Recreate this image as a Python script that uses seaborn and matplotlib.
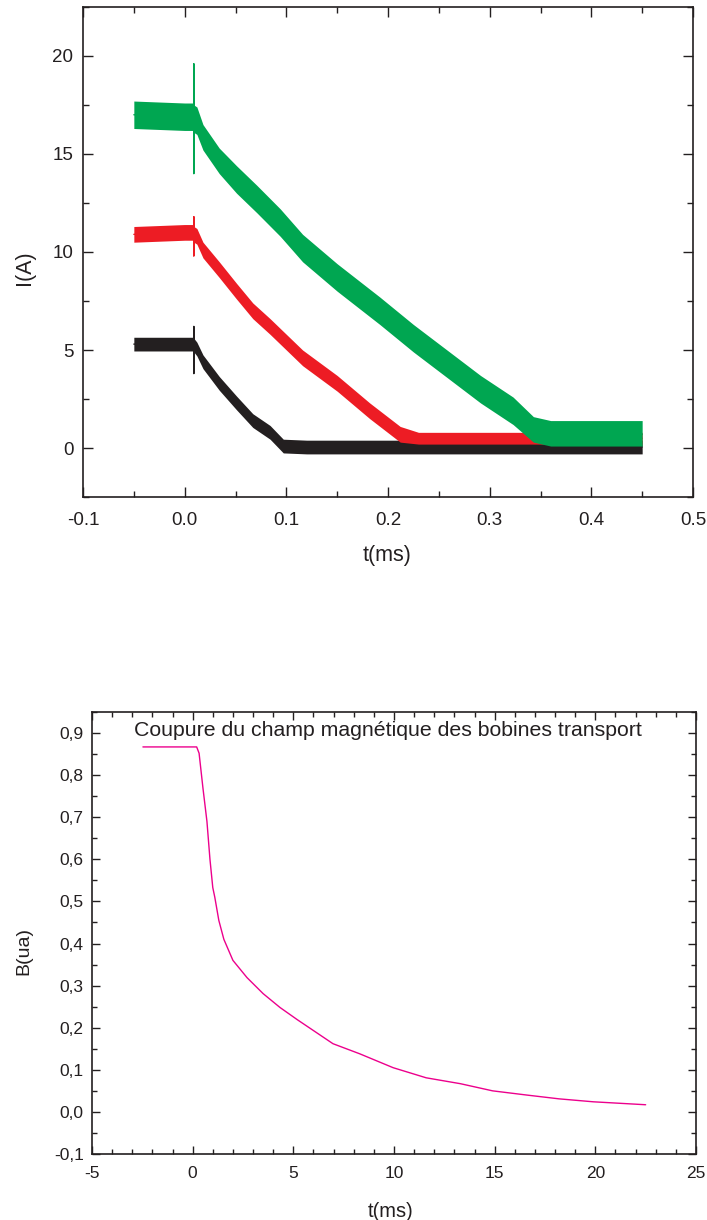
import numpy as np
import pandas as pd
import matplotlib
matplotlib.use("Agg")
import matplotlib.pyplot as plt
import seaborn as sns
from matplotlib.ticker import MultipleLocator, FuncFormatter

# --- courant dans les bobines (3 mesures) ---
green_t = [-0.05, 0.0, 0.009, 0.009, 0.009, 0.009, 0.012, 0.018, 0.034, 0.051, 0.071, 0.094,
           0.116, 0.150, 0.192, 0.225, 0.258, 0.291, 0.323, 0.343, 0.36, 0.40, 0.45]
green_i = [17.0, 16.9, 16.9, 19.6, 14.0, 16.8, 16.7, 15.8, 14.6, 13.7, 12.7, 11.5,
           10.2, 8.7, 7.0, 5.6, 4.3, 3.0, 1.9, 0.9, 0.7, 0.7, 0.7]
green_lo = [16.3, 16.2, 16.2, 16.2, 16.2, 16.1, 16.0, 15.2, 14.0, 13.0, 12.0, 10.8,
            9.5, 8.0, 6.3, 4.9, 3.6, 2.3, 1.2, 0.3, 0.1, 0.1, 0.1]
green_hi = [17.7, 17.6, 17.6, 17.6, 17.6, 17.5, 17.4, 16.5, 15.3, 14.4, 13.4, 12.2,
            10.9, 9.4, 7.7, 6.3, 5.0, 3.7, 2.6, 1.6, 1.4, 1.4, 1.4]

red_t = [-0.05, 0.0, 0.009, 0.009, 0.009, 0.009, 0.012, 0.018, 0.034, 0.051, 0.067, 0.084,
         0.116, 0.150, 0.182, 0.212, 0.23, 0.30, 0.45]
red_i = [10.9, 11.0, 11.0, 11.8, 9.8, 10.9, 10.8, 10.1, 9.1, 8.0, 7.0, 6.2,
         4.6, 3.3, 1.9, 0.7, 0.5, 0.5, 0.5]
red_lo = [10.5, 10.6, 10.6, 10.6, 10.6, 10.5, 10.4, 9.7, 8.7, 7.6, 6.6, 5.8,
          4.2, 2.9, 1.5, 0.3, 0.2, 0.2, 0.2]
red_hi = [11.3, 11.4, 11.4, 11.4, 11.4, 11.3, 11.2, 10.5, 9.5, 8.4, 7.4, 6.6,
          5.0, 3.7, 2.3, 1.1, 0.8, 0.8, 0.8]

black_t = [-0.05, 0.0, 0.009, 0.009, 0.009, 0.009, 0.012, 0.018, 0.034, 0.051, 0.067, 0.084,
           0.097, 0.12, 0.30, 0.45]
black_i = [5.3, 5.3, 5.3, 6.2, 3.8, 5.2, 5.0, 4.4, 3.3, 2.3, 1.4, 0.8, 0.1, 0.05, 0.05, 0.05]
black_lo = [4.95, 4.95, 4.95, 4.95, 4.95, 4.9, 4.7, 4.05, 2.95, 1.95, 1.05, 0.45,
            -0.25, -0.3, -0.3, -0.3]
black_hi = [5.65, 5.65, 5.65, 5.65, 5.65, 5.6, 5.4, 4.75, 3.65, 2.65, 1.75, 1.15,
            0.45, 0.4, 0.4, 0.4]

# --- champ magnetique ---
b_t = [-2.47, 0.2, 0.32, 0.51, 0.71, 0.86, 1.0, 1.1, 1.3, 1.55, 2.0, 2.7, 3.5, 4.34,
       5.2, 6.97, 8.3, 9.96, 11.6, 13.3, 14.9, 16.6, 18.2, 19.9, 22.5]
b_val = [0.867, 0.867, 0.852, 0.77, 0.69, 0.60, 0.533, 0.51, 0.455, 0.41, 0.36, 0.319,
         0.281, 0.248, 0.219, 0.162, 0.138, 0.105, 0.081, 0.067, 0.05, 0.04, 0.031,
         0.024, 0.017]

dark = "#231F20"
sns.set_style("ticks")
plt.rcParams['font.family'] = ['Liberation Sans', 'DejaVu Sans']
plt.rcParams['text.color'] = dark
plt.rcParams['axes.labelcolor'] = dark
plt.rcParams['xtick.color'] = dark
plt.rcParams['ytick.color'] = dark
plt.rcParams['axes.edgecolor'] = dark

fig = plt.figure(figsize=(7.07, 12.2), dpi=100)
ax1 = fig.add_axes([0.1174, 0.5926, 0.8628, 0.4017])
ax2 = fig.add_axes([0.1301, 0.0541, 0.8543, 0.3623])

series = [
    (black_t, black_i, black_lo, black_hi, "#231F20"),
    (red_t, red_i, red_lo, red_hi, "#ED1C24"),
    (green_t, green_i, green_lo, green_hi, "#00A651"),
]
for k, (t, i, lo, hi, c) in enumerate(series):
    ax1.fill_between(t, lo, hi, color=c, linewidth=0, zorder=2 + k)
    df = pd.DataFrame({"t": t, "I": i})
    sns.lineplot(data=df, x="t", y="I", ax=ax1, color=c, lw=1.0,
                 estimator=None, sort=False, zorder=2 + k)

ax1.set_xlim(-0.1, 0.5)
ax1.set_ylim(-2.5, 22.5)
ax1.xaxis.set_major_locator(MultipleLocator(0.1))
ax1.xaxis.set_minor_locator(MultipleLocator(0.05))
ax1.yaxis.set_major_locator(MultipleLocator(5))
ax1.yaxis.set_minor_locator(MultipleLocator(2.5))
ax1.xaxis.set_major_formatter(FuncFormatter(lambda v, p: f"{v:.1f}"))
ax1.yaxis.set_major_formatter(FuncFormatter(lambda v, p: f"{v:.0f}"))
ax1.tick_params(which='both', direction='in', top=True, right=True, width=1.0,
                labelsize=13.5)
ax1.tick_params(which='major', length=7)
ax1.tick_params(which='minor', length=4)
ax1.tick_params(axis='x', pad=11)
ax1.tick_params(axis='y', pad=7)
ax1.set_xlabel("t(ms)", fontsize=15.5, va='top')
ax1.set_ylabel("I(A)", fontsize=15.5)
ax1.xaxis.set_label_coords(0.498, -0.098)
ax1.yaxis.set_label_coords(-0.079, 0.467)

dfb = pd.DataFrame({"t": b_t, "B": b_val})
sns.lineplot(data=dfb, x="t", y="B", ax=ax2, color="#EC008C", lw=1.0, estimator=None)
ax2.set_xlim(-5, 25)
ax2.set_ylim(-0.1, 0.95)
ax2.xaxis.set_major_locator(MultipleLocator(5))
ax2.xaxis.set_minor_locator(MultipleLocator(1))
ax2.yaxis.set_major_locator(MultipleLocator(0.1))
ax2.yaxis.set_minor_locator(MultipleLocator(0.05))
ax2.xaxis.set_major_formatter(FuncFormatter(lambda v, p: f"{v:.0f}"))
ax2.yaxis.set_major_formatter(FuncFormatter(lambda v, p: f"{v:.1f}".replace('.', ',')))
ax2.tick_params(which='both', direction='in', top=True, right=True, width=1.0,
                labelsize=12.5)
ax2.tick_params(which='major', length=6)
ax2.tick_params(which='minor', length=3.5)
ax2.tick_params(axis='x', pad=9)
ax2.tick_params(axis='y', pad=6)
ax2.set_xlabel("t(ms)", fontsize=14.5, va='top')
ax2.set_ylabel("B(ua)", fontsize=14)
ax2.xaxis.set_label_coords(0.495, -0.109)
ax2.yaxis.set_label_coords(-0.098, 0.46)
ax2.text(0.49, 0.957, "Coupure du champ magnétique des bobines transport",
         transform=ax2.transAxes, ha='center', va='center', fontsize=15.3)

for ax in (ax1, ax2):
    for s in ax.spines.values():
        s.set_linewidth(1.2)

fig.savefig("out.png", dpi=100)
